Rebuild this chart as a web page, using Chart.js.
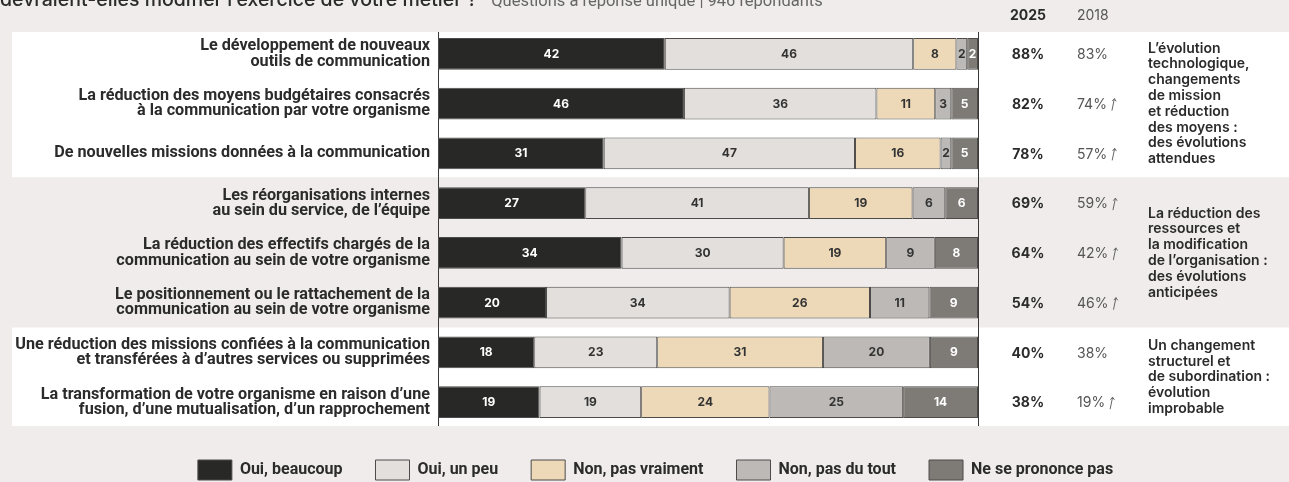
<!DOCTYPE html>
<html lang="fr">
<head>
<meta charset="utf-8">
<title>Évolutions du métier</title>
<script src="https://cdn.jsdelivr.net/npm/chart.js@4/dist/chart.umd.min.js"></script>
<style>
  html, body { margin: 0; padding: 0; background: #efeceb; }
  #wrap { width: 1289px; height: 482px; position: relative; }
</style>
</head>
<body>
<div id="wrap"><canvas id="chart"></canvas></div>
<script>
// Questions (une par ligne, coupées sur deux lignes)
const questions = [
  ['Le développement de nouveaux', 'outils de communication'],
  ['La réduction des moyens budgétaires consacrés', 'à la communication par votre organisme'],
  ['De nouvelles missions données à la communication'],
  ['Les réorganisations internes', 'au sein du service, de l\u2019équipe'],
  ['La réduction des effectifs chargés de la', 'communication au sein de votre organisme'],
  ['Le positionnement ou le rattachement de la', 'communication au sein de votre organisme'],
  ['Une réduction des missions confiées à la communication', 'et transférées à d\u2019autres services ou supprimées'],
  ['La transformation de votre organisme en raison d\u2019une', 'fusion, d\u2019une mutualisation, d\u2019un rapprochement']
];

// Réponses en %
const ouiBeaucoup    = [42, 46, 31, 27, 34, 20, 18, 19];
const ouiUnPeu       = [46, 36, 47, 41, 30, 34, 23, 19];
const nonPasVraiment = [8, 11, 16, 19, 19, 26, 31, 24];
const nonPasDuTout   = [2, 3, 2, 6, 9, 11, 20, 25];
const nspp           = [2, 5, 5, 6, 8, 9, 9, 14];

const seriesNames = ['Oui, beaucoup', 'Oui, un peu', 'Non, pas vraiment', 'Non, pas du tout', 'Ne se prononce pas'];

// Colonnes de droite : total "oui" 2025 et rappel 2018
const total2025 = ['88%', '82%', '78%', '69%', '64%', '54%', '40%', '38%'];
const total2018 = ['83%', '74%', '57%', '59%', '42%', '46%', '38%', '19%'];
const hausse2018 = [false, true, true, true, true, true, false, true];

// Regroupements de lignes et commentaires associés
const groupRows = [[0, 2], [3, 5], [6, 7]];
const groupNotes = [
  ['L\u2019évolution', 'technologique,', 'changements', 'de mission', 'et réduction', 'des moyens :', 'des évolutions', 'attendues'],
  ['La réduction des', 'ressources et', 'la modification', 'de l\u2019organisation :', 'des évolutions', 'anticipées'],
  ['Un changement', 'structurel et', 'de subordination :', 'évolution', 'improbable']
];

const colors = ['#282826', '#e3dfdc', '#edd9b8', '#bcb9b6', '#7e7a76'];
const labelColors = ['#ffffff', '#333333', '#333333', '#333333', '#ffffff'];
const groupFill = ['#ffffff', null, '#ffffff'];
const pageBg = '#efeceb';
const ink = '#2b2b2b';

const raw = [ouiBeaucoup, ouiUnPeu, nonPasVraiment, nonPasDuTout, nspp];
// chaque barre est ramenée à 100 % (les arrondis font varier les totaux)
const rowTotals = questions.map((q, i) => raw.reduce((s, arr) => s + arr[i], 0));

const datasets = raw.map((arr, k) => ({
  label: seriesNames[k],
  data: arr.map((v, i) => v / rowTotals[i] * 100),
  values: arr,
  backgroundColor: colors[k],
  borderColor: '#4d4b49',
  borderWidth: 1,
  borderSkipped: false,
  barPercentage: 0.64,
  categoryPercentage: 1
}));

function rowPitch(y) {
  return y.getPixelForValue(1) - y.getPixelForValue(0);
}

const decor = {
  id: 'decor',
  afterLayout(chart) {
    // la légende est centrée un peu à droite du milieu
    chart.legend.left += 11;
    chart.legend.right += 11;
  },
  beforeDraw(chart) {
    const { ctx, scales: { y } } = chart;
    const half = rowPitch(y) / 2;
    ctx.save();
    ctx.fillStyle = pageBg;
    ctx.fillRect(0, 0, chart.width, chart.height);
    groupRows.forEach((g, k) => {
      if (!groupFill[k]) return;
      const top = Math.max(y.getPixelForValue(g[0]) - half, 32);
      const bottom = y.getPixelForValue(g[1]) + half - 1;
      ctx.fillStyle = groupFill[k];
      ctx.fillRect(12, top, chart.width - 12, bottom - top);
    });
    ctx.restore();
  },
  beforeDatasetsDraw(chart) {
    const { ctx, chartArea, scales: { y } } = chart;
    const half = rowPitch(y) / 2;
    const top = 32;
    const bottom = y.getPixelForValue(questions.length - 1) + half - 1;
    ctx.save();
    ctx.strokeStyle = '#3a3a3a';
    ctx.lineWidth = 1;
    [chartArea.left, chartArea.right].forEach(x => {
      const px = Math.round(x) + 0.5;
      ctx.beginPath();
      ctx.moveTo(px, top);
      ctx.lineTo(px, bottom);
      ctx.stroke();
    });
    ctx.restore();
  },
  afterDatasetsDraw(chart) {
    const { ctx } = chart;
    ctx.save();
    ctx.font = '700 12px Inter';
    ctx.textAlign = 'center';
    ctx.textBaseline = 'middle';
    chart.data.datasets.forEach((ds, k) => {
      chart.getDatasetMeta(k).data.forEach((bar, i) => {
        const { x, base, y } = bar.getProps(['x', 'base', 'y'], true);
        ctx.fillStyle = labelColors[k];
        ctx.fillText(String(ds.values[i]), (x + base) / 2, y + 0.5);
      });
    });
    ctx.restore();
  },
  afterDraw(chart) {
    const { ctx, scales: { y } } = chart;
    const col25 = 1028, col18 = 1077, notesX = 1148;
    ctx.save();

    // titre (coupé en haut de l'image)
    ctx.textBaseline = 'alphabetic';
    ctx.textAlign = 'left';
    ctx.fillStyle = ink;
    ctx.font = '500 19.5px Inter';
    const title = 'devraient-elles modifier l\u2019exercice de votre métier ?';
    ctx.fillText(title, 0, 6);
    const tw = ctx.measureText(title).width;
    ctx.fillStyle = '#666';
    ctx.font = '16.5px Roboto';
    ctx.fillText('Questions à réponse unique | 946 répondants', tw + 14, 6);

    // en-têtes des colonnes
    ctx.textBaseline = 'middle';
    ctx.fillStyle = ink;
    ctx.font = '700 14px Inter';
    ctx.textAlign = 'center';
    ctx.fillText('2025', col25, 16);
    ctx.fillStyle = '#555';
    ctx.font = '400 14px Inter';
    ctx.textAlign = 'left';
    ctx.fillText('2018', col18, 16);

    questions.forEach((q, i) => {
      const py = y.getPixelForValue(i) + 1;
      ctx.fillStyle = ink;
      ctx.font = '700 14px Inter';
      ctx.textAlign = 'center';
      ctx.fillText(total2025[i], col25, py);
      ctx.fillStyle = '#555';
      ctx.font = '400 14px Inter';
      ctx.textAlign = 'left';
      ctx.fillText(total2018[i], col18, py);
      if (hausse2018[i]) {
        // petite flèche de hausse
        const ax = col18 + ctx.measureText(total2018[i]).width + 5;
        ctx.strokeStyle = '#666';
        ctx.lineWidth = 1;
        ctx.beginPath();
        ctx.moveTo(ax, py + 6);
        ctx.lineTo(ax + 2.5, py - 6);
        ctx.moveTo(ax + 0.3, py - 3.5);
        ctx.lineTo(ax + 2.5, py - 6);
        ctx.lineTo(ax + 4.2, py - 3.3);
        ctx.stroke();
      }
    });

    // commentaires par groupe
    ctx.fillStyle = ink;
    ctx.font = '600 14px Inter';
    ctx.textAlign = 'left';
    const lh = 15.8;
    groupRows.forEach((g, k) => {
      const mid = (y.getPixelForValue(g[0]) + y.getPixelForValue(g[1])) / 2;
      const lines = groupNotes[k];
      const start = mid - (lines.length - 1) * lh / 2;
      lines.forEach((t, j) => ctx.fillText(t, notesX, start + j * lh));
    });
    ctx.restore();
  }
};

new Chart(document.getElementById('chart'), {
  type: 'bar',
  data: { labels: questions, datasets },
  options: {
    indexAxis: 'y',
    responsive: true,
    maintainAspectRatio: false,
    animation: false,
    layout: { padding: { top: 29, right: 0, left: 0, bottom: -8 } },
    scales: {
      x: { stacked: true, min: 0, max: 100, display: false },
      y: {
        stacked: true,
        grid: { display: false, drawTicks: false },
        border: { display: false },
        ticks: {
          color: ink,
          padding: 8,
          font: { family: 'Roboto', size: 16.2, weight: 'bold', lineHeight: 0.94 }
        },
        afterFit(scale) { scale.width = 438; }
      },
      // axe vide à droite : réserve la place des colonnes 2025 / 2018
      yCols: {
        type: 'category',
        position: 'right',
        grid: { display: false, drawTicks: false },
        border: { display: false },
        ticks: { display: false },
        afterFit(scale) { scale.width = 311; }
      }
    },
    plugins: {
      tooltip: { enabled: false },
      legend: {
        position: 'bottom',
        labels: {
          boxWidth: 34,
          boxHeight: 20,
          padding: 33,
          color: ink,
          font: { family: 'Roboto', size: 16, weight: 'bold' }
        }
      }
    }
  },
  plugins: [decor]
});
</script>
</body>
</html>
